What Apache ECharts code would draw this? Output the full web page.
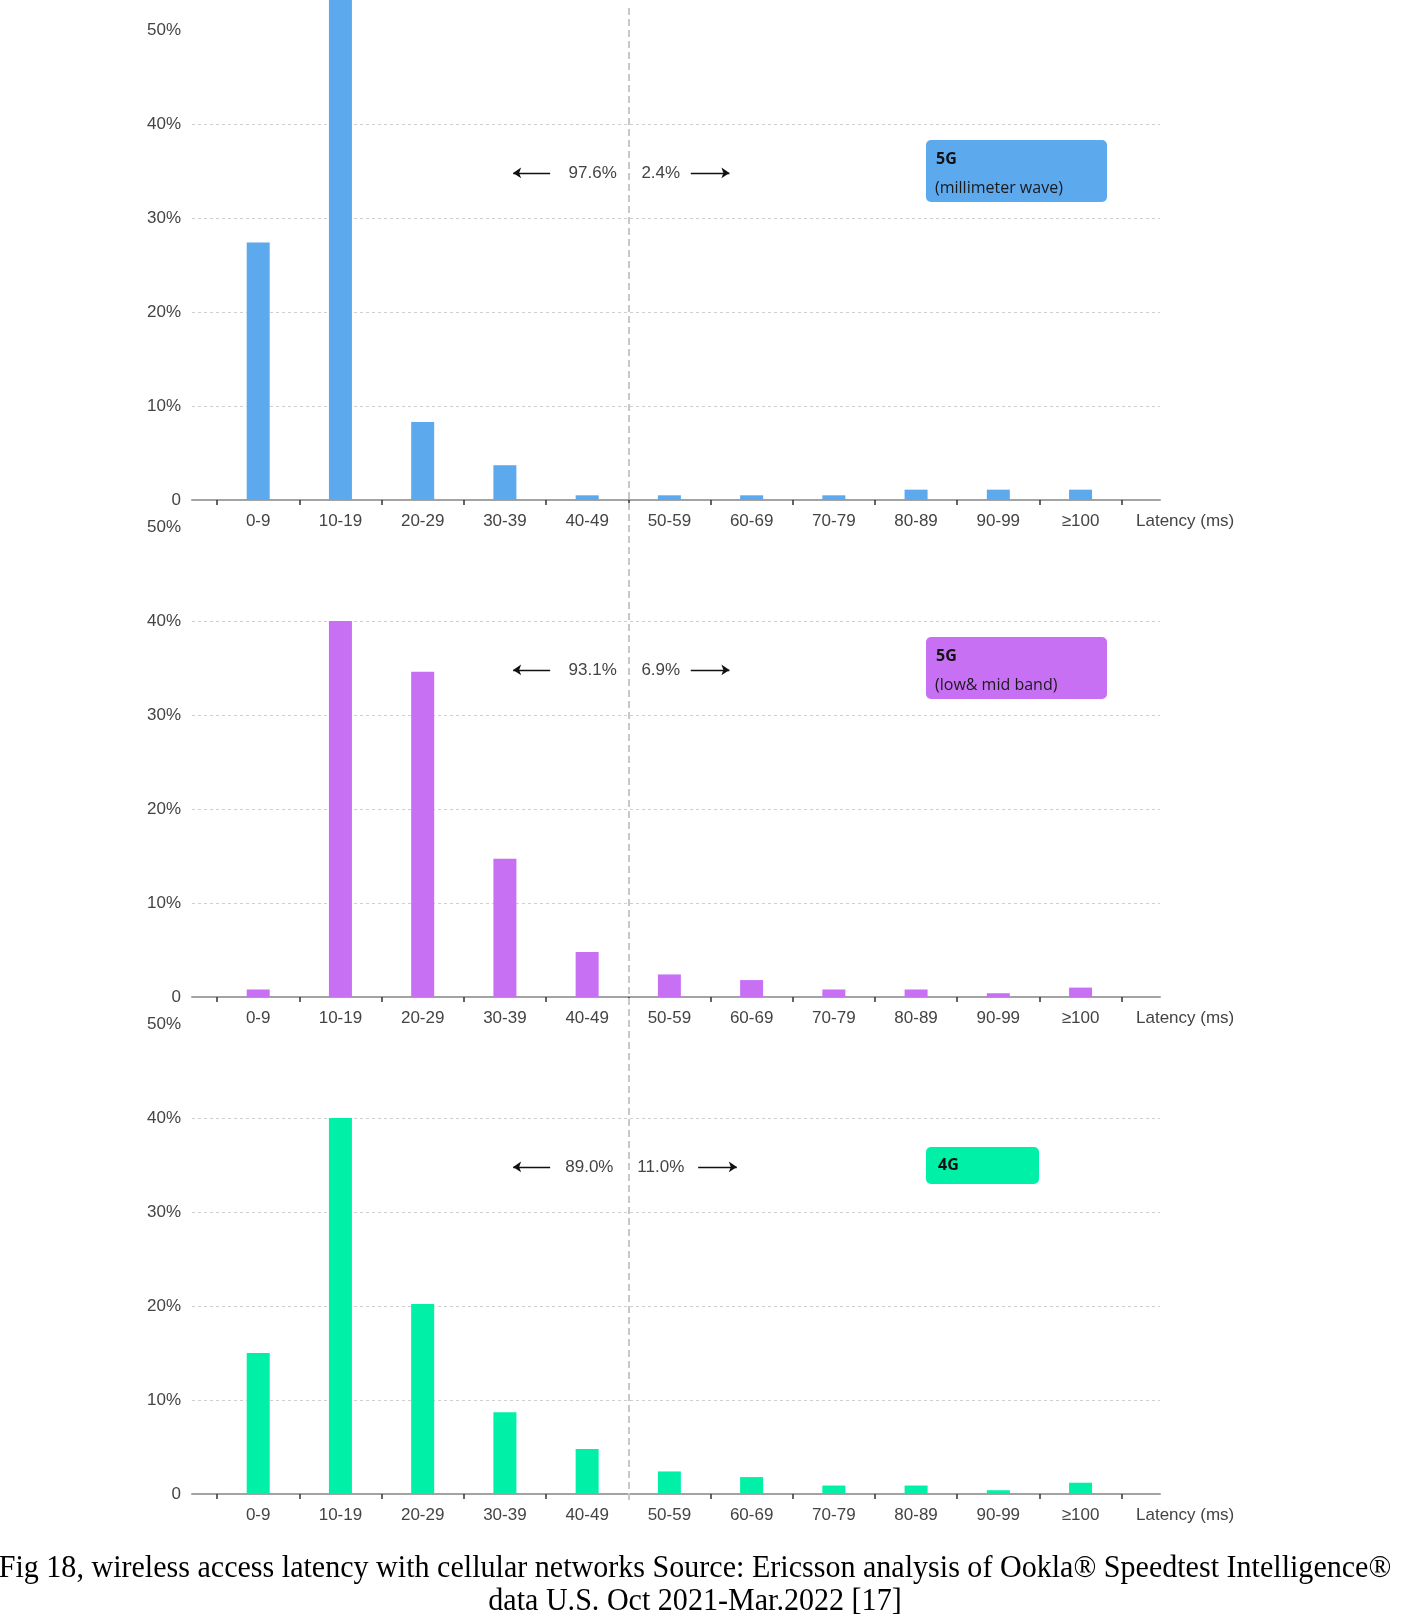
<!DOCTYPE html>
<html><head><meta charset="utf-8">
<script src="https://cdn.jsdelivr.net/npm/echarts@6/dist/echarts.min.js"></script>
<style>html,body{margin:0;padding:0;background:#fff}#c{width:1406px;height:1621px}</style>
</head><body><div id="c"></div>
<script>
const categories = ['0-9','10-19','20-29','30-39','40-49','50-59','60-69','70-79','80-89','90-99','≥100'];
const yTicks = [0, 10, 20, 30, 40, 50];
const mmWave = [27.4, 57.8, 8.3, 3.7, 0.5, 0.5, 0.5, 0.5, 1.1, 1.1, 1.1];
const lowMid = [0.8, 40.0, 34.6, 14.7, 4.8, 2.4, 1.8, 0.8, 0.8, 0.4, 1.0];
const lte = [15.0, 40.0, 20.2, 8.7, 4.8, 2.4, 1.8, 0.9, 0.9, 0.4, 1.2];
const shareBelow50 = ['97.6%', '93.1%', '89.0%'];
const shareAbove50 = ['2.4%', '6.9%', '11.0%'];
const panelNames = ['5G', '5G', '4G'];
const panelSubs = ['(millimeter wave)', '(low& mid band)', ''];
const xAxisName = 'Latency (ms)';
const caption = 'Fig 18, wireless access latency with cellular networks Source: Ericsson analysis of Ookla® Speedtest Intelligence®\ndata U.S. Oct 2021-Mar.2022 [17]';

const seriesValues = [mmWave, lowMid, lte];
const colors = ['#5DA9EE', '#C870F4', '#00F0A8'];
const gridTops = [30, 527, 1024];
const gridH = 470;
const boxTops = [140, 637, 1147];
const splitIdx = categories.indexOf('50-59');
const FONT = 'Liberation Sans';
const XMIN = -0.305, XMAX = 11.466;
const annY = 34.8;

const grids = [], xAxes = [], yAxes = [], series = [], graphics = [];
for (let i = 0; i < 3; i++) {
  grids.push({left: 192, right: 246, top: gridTops[i], height: gridH});
  xAxes.push({
    type: 'value', gridIndex: i, min: XMIN, max: XMAX,
    axisLine: {show: true, lineStyle: {color: '#a3a3a3', width: 2}},
    axisTick: {show: true, length: 5, customValues: categories.map((c, k) => k).concat([categories.length]),
      lineStyle: {color: '#333', width: 1.5}},
    axisLabel: {customValues: categories.map((c, k) => k + 0.5), formatter: v => categories[Math.floor(v)],
      color: '#444', fontSize: 17, margin: 13, fontFamily: FONT},
    splitLine: {show: false},
    name: xAxisName, nameLocation: 'end', nameGap: -24,
    nameTextStyle: {color: '#444', fontSize: 17, fontFamily: FONT, align: 'left', verticalAlign: 'top', padding: [13, 0, 0, 0]}
  });
  yAxes.push({
    type: 'value', gridIndex: i, min: yTicks[0], max: yTicks[yTicks.length - 1], interval: yTicks[1] - yTicks[0],
    axisLine: {show: false}, axisTick: {show: false},
    axisLabel: {formatter: v => v === 0 ? '0' : v + '%', color: '#444', fontSize: 17, margin: 11, fontFamily: FONT},
    splitLine: {show: true, showMinLine: false, showMaxLine: false, lineStyle: {color: '#cfcfcf', width: 1, type: [3, 3]}}
  });
  const sh = i === 2 ? 0.09 : 0;
  series.push({
    type: 'bar', xAxisIndex: i, yAxisIndex: i, barWidth: 23, clip: false,
    data: categories.map((c, k) => [k + 0.5, seriesValues[i][k]]),
    itemStyle: {color: colors[i]},
    markLine: {
      silent: true, symbol: ['none', 'arrow'], symbolSize: 8, label: {show: false},
      lineStyle: {color: '#111', width: 1.3, type: 'solid'},
      data: [
        [{coord: [4.05, annY]}, {coord: [3.60, annY]}],
        [{coord: [5.76 + sh, annY]}, {coord: [6.23 + sh, annY]}]
      ]
    },
    markPoint: {
      silent: true, symbol: 'circle', symbolSize: 1, itemStyle: {color: 'rgba(0,0,0,0)'},
      label: {show: true, position: 'inside', color: '#444', fontSize: 17, fontFamily: FONT, verticalAlign: 'middle'},
      data: [
        {coord: [i === 2 ? 4.82 : 4.86, annY], label: {formatter: shareBelow50[i], align: 'right'}},
        {coord: [i === 2 ? 5.11 : 5.16, annY], label: {formatter: shareAbove50[i], align: 'left'}}
      ]
    }
  });
  const two = panelSubs[i] !== '';
  const children = [
    {type: 'rect', shape: {x: 0, y: 0, width: two ? 181 : 113, height: two ? 62 : 37, r: 5}, style: {fill: colors[i]}},
    {type: 'text', x: two ? 10 : 12, y: two ? 19 : 18.5,
      style: {text: panelNames[i], fontSize: 16, fontWeight: 'bold', fontFamily: 'Open Sans', fill: '#111', verticalAlign: 'middle', align: 'left'}}
  ];
  if (two) children.push({type: 'text', x: 9, y: 48,
      style: {text: panelSubs[i], fontSize: 16, fontFamily: 'Open Sans', fill: '#1a1a1a', verticalAlign: 'middle', align: 'left'}});
  graphics.push({type: 'group', left: 926, top: boxTops[i], silent: true, children: children});
}
// overlay grid for the dashed 50 ms divider
grids.push({left: 192, right: 246, top: 8, bottom: 121});
xAxes.push({type: 'value', gridIndex: 3, min: XMIN, max: XMAX, show: false});
yAxes.push({type: 'value', gridIndex: 3, min: 0, max: 1, show: false});
series.push({
  type: 'line', xAxisIndex: 3, yAxisIndex: 3, data: [[splitIdx, 0.5]], symbol: 'none', showSymbol: false,
  lineStyle: {opacity: 0}, silent: true,
  markLine: {silent: true, symbol: 'none', label: {show: false},
    lineStyle: {color: '#c8c8c8', width: 2, type: [7, 4]}, data: [{xAxis: splitIdx}]}
});
graphics.push({
  type: 'text', x: 695, y: 1585, scaleX: 0.97, silent: true,
  style: {text: caption, fontFamily: 'Liberation Serif', fontSize: 31, lineHeight: 33, fill: '#000', align: 'center', verticalAlign: 'middle'}
});

const chart = echarts.init(document.getElementById('c'), null, {renderer: 'canvas'});
chart.setOption({
  animation: false,
  backgroundColor: '#fff',
  textStyle: {fontFamily: FONT},
  grid: grids, xAxis: xAxes, yAxis: yAxes, series: series,
  graphic: graphics
});
</script></body></html>
